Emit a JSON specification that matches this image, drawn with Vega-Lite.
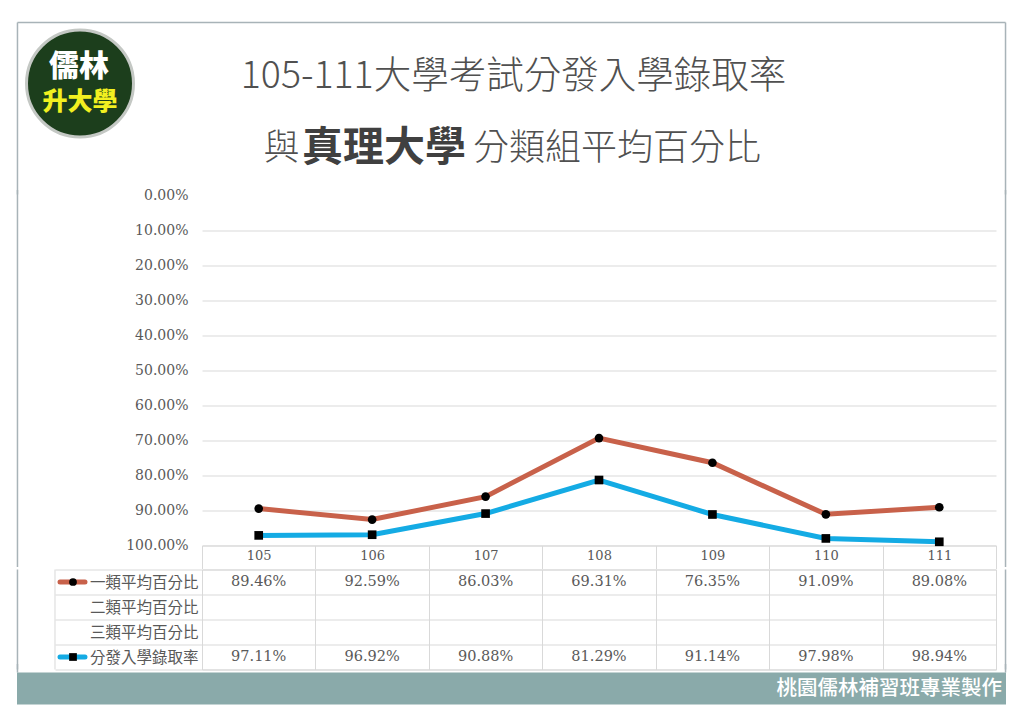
{
  "$schema": "https://vega.github.io/schema/vega-lite/v6.json",
  "background": "white",
  "padding": {"left": 16, "top": 21.5, "right": 10, "bottom": 10},
  "spacing": -9,
  "datasets": {
    "vals": [
      {"year": "105", "series": "一類平均百分比", "value": 0.8946},
      {"year": "106", "series": "一類平均百分比", "value": 0.9259},
      {"year": "107", "series": "一類平均百分比", "value": 0.8603},
      {"year": "108", "series": "一類平均百分比", "value": 0.6931},
      {"year": "109", "series": "一類平均百分比", "value": 0.7635},
      {"year": "110", "series": "一類平均百分比", "value": 0.9109},
      {"year": "111", "series": "一類平均百分比", "value": 0.8908},
      {"year": "105", "series": "分發入學錄取率", "value": 0.9711},
      {"year": "106", "series": "分發入學錄取率", "value": 0.9692},
      {"year": "107", "series": "分發入學錄取率", "value": 0.9088},
      {"year": "108", "series": "分發入學錄取率", "value": 0.8129},
      {"year": "109", "series": "分發入學錄取率", "value": 0.9114},
      {"year": "110", "series": "分發入學錄取率", "value": 0.9798},
      {"year": "111", "series": "分發入學錄取率", "value": 0.9894}
    ],
    "rows": [
      {"row": "一類平均百分比", "marker": "一類平均百分比"},
      {"row": "二類平均百分比"},
      {"row": "三類平均百分比"},
      {"row": "分發入學錄取率", "marker": "分發入學錄取率"}
    ],
    "frame": [{"edge": "frame"}]
  },
  "vconcat": [
    {
      "width": 794,
      "height": 172,
      "view": {"stroke": null},
      "layer": [
        {
          "data": {"name": "frame"},
          "mark": {"type": "rule", "color": "#A8B3B8", "strokeWidth": 1.5},
          "encoding": {
            "x": {"datum": -0.2324, "type": "quantitative", "scale": {"domain": [0, 1]}, "axis": null},
            "x2": {"datum": 1.012},
            "y": {"datum": 0, "type": "quantitative", "scale": {"domain": [0, 1], "reverse": true}, "axis": null}
          }
        },
        {
          "data": {"name": "frame"},
          "mark": {"type": "rule", "color": "#A8B3B8", "strokeWidth": 1.5},
          "encoding": {
            "x": {"datum": -0.2324, "type": "quantitative", "scale": {"domain": [0, 1]}, "axis": null}
          }
        },
        {
          "data": {"name": "frame"},
          "mark": {"type": "rule", "color": "#A8B3B8", "strokeWidth": 1.5},
          "encoding": {
            "x": {"datum": 1.012, "type": "quantitative", "scale": {"domain": [0, 1]}, "axis": null}
          }
        },
        {
          "data": {"values": [{"name": "儒林升大學"}]},
          "mark": {"type": "point", "shape": "circle", "filled": true, "fill": "#1C3E1C", "fillOpacity": 1, "stroke": "#C4C8C4", "strokeWidth": 3, "strokeOpacity": 1, "size": 11449},
          "encoding": {
            "x": {"datum": -0.15365, "type": "quantitative", "scale": {"domain": [0, 1]}, "axis": null},
            "y": {"datum": 0.3547, "type": "quantitative", "scale": {"domain": [0, 1], "reverse": true}, "axis": null}
          }
        },
        {
          "data": {"values": [{"t": "儒林"}]},
          "mark": {"type": "text", "font": "Noto Sans CJK TC", "fontWeight": 900, "fontSize": 30, "color": "#FFFFFF"},
          "encoding": {
            "text": {"field": "t"},
            "x": {"datum": -0.1549, "type": "quantitative", "scale": {"domain": [0, 1]}, "axis": null},
            "y": {"datum": 0.2587, "type": "quantitative", "scale": {"domain": [0, 1], "reverse": true}, "axis": null}
          }
        },
        {
          "data": {"values": [{"t": "升大學"}]},
          "mark": {"type": "text", "font": "Noto Sans CJK TC", "fontWeight": 900, "fontSize": 25, "color": "#F2F020"},
          "encoding": {
            "text": {"field": "t"},
            "x": {"datum": -0.15365, "type": "quantitative", "scale": {"domain": [0, 1]}, "axis": null},
            "y": {"datum": 0.4622, "type": "quantitative", "scale": {"domain": [0, 1], "reverse": true}, "axis": null}
          }
        },
        {
          "data": {"values": [{"t": "105-111大學考試分發入學錄取率"}]},
          "mark": {"type": "text", "font": "Noto Sans CJK TC", "fontWeight": 300, "fontSize": 37.5, "color": "#505050"},
          "encoding": {
            "text": {"field": "t"},
            "x": {"datum": 0.3923, "type": "quantitative", "scale": {"domain": [0, 1]}, "axis": null},
            "y": {"datum": 0.3163, "type": "quantitative", "scale": {"domain": [0, 1], "reverse": true}, "axis": null}
          }
        },
        {
          "data": {"values": [{"t": "與"}]},
          "mark": {"type": "text", "font": "Noto Sans CJK TC", "fontWeight": 300, "fontSize": 36, "color": "#505050"},
          "encoding": {
            "text": {"field": "t"},
            "x": {"datum": 0.1001, "type": "quantitative", "scale": {"domain": [0, 1]}, "axis": null},
            "y": {"datum": 0.7383, "type": "quantitative", "scale": {"domain": [0, 1], "reverse": true}, "axis": null}
          }
        },
        {
          "data": {"values": [{"t": "真理大學"}]},
          "mark": {"type": "text", "font": "Noto Sans CJK TC", "fontWeight": 700, "fontSize": 41, "color": "#404040"},
          "encoding": {
            "text": {"field": "t"},
            "x": {"datum": 0.2292, "type": "quantitative", "scale": {"domain": [0, 1]}, "axis": null},
            "y": {"datum": 0.7383, "type": "quantitative", "scale": {"domain": [0, 1], "reverse": true}, "axis": null}
          }
        },
        {
          "data": {"values": [{"t": "分類組平均百分比"}]},
          "mark": {"type": "text", "font": "Noto Sans CJK TC", "fontWeight": 300, "fontSize": 36, "color": "#505050"},
          "encoding": {
            "text": {"field": "t"},
            "x": {"datum": 0.5227, "type": "quantitative", "scale": {"domain": [0, 1]}, "axis": null},
            "y": {"datum": 0.7383, "type": "quantitative", "scale": {"domain": [0, 1], "reverse": true}, "axis": null}
          }
        }
      ]
    },
    {
      "width": 794,
      "height": 350,
      "view": {"stroke": null},
      "resolve": {"scale": {"x": "independent", "y": "independent"}},
      "layer": [
        {
          "data": {"name": "vals"},
          "encoding": {
            "x": {
              "field": "year", "type": "ordinal", "title": null,
              "scale": {"type": "band", "domain": ["105", "106", "107", "108", "109", "110", "111"], "paddingInner": 0, "paddingOuter": 0},
              "axis": {"orient": "bottom", "labelAngle": 0, "domain": true, "domainColor": "#D9D9D9", "ticks": true, "tickColor": "#D9D9D9", "tickSize": 23, "tickBand": "extent", "labelPadding": -19, "labelFont": "DejaVu Serif", "labelFontSize": 13, "labelColor": "#595959", "grid": false, "minExtent": 0, "maxExtent": 23}
            },
            "y": {
              "field": "value", "type": "quantitative", "title": null,
              "scale": {"domain": [0, 1], "reverse": true},
              "axis": {"values": [0, 0.1, 0.2, 0.3, 0.4, 0.5, 0.6, 0.7, 0.8, 0.9, 1], "format": ".2%", "domain": false, "ticks": false, "labelPadding": 14, "labelFont": "DejaVu Serif", "labelFontSize": 14, "labelColor": "#595959", "gridColor": "#D9D9D9", "gridOpacity": {"condition": {"test": "datum.value == 0", "value": 0}, "value": 1}, "minExtent": 185, "maxExtent": 185}
            }
          },
          "layer": [
            {
              "mark": {"type": "line", "strokeWidth": 5},
              "encoding": {
                "color": {"field": "series", "type": "nominal", "scale": {"domain": ["一類平均百分比", "分發入學錄取率"], "range": ["#C8614A", "#14ABE4"]}, "legend": null}
              }
            },
            {
              "mark": {"type": "point", "filled": true, "size": 75, "color": "#000000", "opacity": 1},
              "encoding": {
                "shape": {"field": "series", "type": "nominal", "scale": {"domain": ["一類平均百分比", "分發入學錄取率"], "range": ["circle", "square"]}, "legend": null}
              }
            }
          ]
        },
        {
          "data": {"name": "frame"},
          "mark": {"type": "rule", "color": "#A8B3B8", "strokeWidth": 1.5},
          "encoding": {
            "x": {"datum": -0.2324, "type": "quantitative", "scale": {"domain": [0, 1]}, "axis": null},
            "y": {"datum": -0.016, "type": "quantitative", "scale": {"domain": [0, 1], "reverse": true}, "axis": null},
            "y2": {"datum": 1.0614}
          }
        },
        {
          "data": {"name": "frame"},
          "mark": {"type": "rule", "color": "#A8B3B8", "strokeWidth": 1.5},
          "encoding": {
            "x": {"datum": 1.012, "type": "quantitative", "scale": {"domain": [0, 1]}, "axis": null},
            "y": {"datum": -0.016, "type": "quantitative", "scale": {"domain": [0, 1], "reverse": true}, "axis": null},
            "y2": {"datum": 1.0614}
          }
        }
      ]
    },
    {
      "width": 794,
      "height": 100,
      "view": {"stroke": "#D9D9D9"},
      "resolve": {"scale": {"x": "independent", "y": "independent"}},
      "layer": [
        {
          "data": {"name": "vals"},
          "mark": {"type": "text", "font": "DejaVu Serif", "fontSize": 14.5, "color": "#595959"},
          "encoding": {
            "x": {
              "field": "year", "type": "ordinal", "title": null,
              "scale": {"type": "band", "domain": ["105", "106", "107", "108", "109", "110", "111"], "paddingInner": 0, "paddingOuter": 0},
              "axis": {"labels": false, "ticks": false, "domain": false, "grid": true, "gridColor": "#D9D9D9", "tickBand": "extent", "minExtent": 0, "maxExtent": 0}
            },
            "y": {
              "field": "series", "type": "nominal", "title": null,
              "scale": {"type": "band", "domain": ["一類平均百分比", "二類平均百分比", "三類平均百分比", "分發入學錄取率"], "paddingInner": 0, "paddingOuter": 0},
              "axis": {"domain": false, "ticks": true, "tickSize": 147, "tickColor": "#D9D9D9", "tickBand": "extent", "labelPadding": -143, "labelFont": "Noto Sans CJK TC", "labelFontSize": 15.5, "labelColor": "#595959", "grid": true, "gridColor": "#D9D9D9"}
            },
            "text": {"field": "value", "type": "quantitative", "format": ".2%"}
          }
        },
        {
          "data": {"name": "rows"},
          "transform": [{"filter": "datum.marker != null"}],
          "mark": {"type": "rule", "strokeWidth": 5, "strokeCap": "round"},
          "encoding": {
            "x": {"datum": -0.17884, "type": "quantitative", "scale": {"domain": [0, 1]}, "axis": null},
            "x2": {"datum": -0.14736},
            "y": {"field": "row", "type": "nominal", "title": null, "axis": null, "scale": {"type": "band", "domain": ["一類平均百分比", "二類平均百分比", "三類平均百分比", "分發入學錄取率"], "paddingInner": 0, "paddingOuter": 0}},
            "color": {"field": "marker", "type": "nominal", "scale": {"domain": ["一類平均百分比", "分發入學錄取率"], "range": ["#C8614A", "#14ABE4"]}, "legend": null}
          }
        },
        {
          "data": {"name": "rows"},
          "transform": [{"filter": "datum.marker != null"}],
          "mark": {"type": "point", "filled": true, "size": 60, "color": "#000000", "opacity": 1},
          "encoding": {
            "x": {"datum": -0.16247, "type": "quantitative", "scale": {"domain": [0, 1]}, "axis": null},
            "y": {"field": "row", "type": "nominal", "title": null, "axis": null, "scale": {"type": "band", "domain": ["一類平均百分比", "二類平均百分比", "三類平均百分比", "分發入學錄取率"], "paddingInner": 0, "paddingOuter": 0}},
            "shape": {"field": "marker", "type": "nominal", "scale": {"domain": ["一類平均百分比", "分發入學錄取率"], "range": ["circle", "square"]}, "legend": null}
          }
        },
        {
          "data": {"name": "frame"},
          "mark": {"type": "rule", "color": "#D9D9D9", "strokeWidth": 1},
          "encoding": {
            "x": {"datum": -0.18514, "type": "quantitative", "scale": {"domain": [0, 1]}, "axis": null}
          }
        },
        {
          "data": {"name": "frame"},
          "mark": {"type": "rule", "color": "#A8B3B8", "strokeWidth": 1.5},
          "encoding": {
            "x": {"datum": -0.2324, "type": "quantitative", "scale": {"domain": [0, 1]}, "axis": null}
          }
        },
        {
          "data": {"name": "frame"},
          "mark": {"type": "rule", "color": "#A8B3B8", "strokeWidth": 1.5},
          "encoding": {
            "x": {"datum": 1.012, "type": "quantitative", "scale": {"domain": [0, 1]}, "axis": null}
          }
        }
      ]
    },
    {
      "width": 794,
      "height": 32,
      "view": {"stroke": null},
      "layer": [
        {
          "data": {"name": "frame"},
          "mark": {"type": "rule", "color": "#A8B3B8", "strokeWidth": 1.5},
          "encoding": {
            "x": {"datum": -0.2324, "type": "quantitative", "scale": {"domain": [0, 1]}, "axis": null},
            "y": {"datum": -0.2656, "type": "quantitative", "scale": {"domain": [0, 1], "reverse": true}, "axis": null},
            "y2": {"datum": 0}
          }
        },
        {
          "data": {"name": "frame"},
          "mark": {"type": "rule", "color": "#A8B3B8", "strokeWidth": 1.5},
          "encoding": {
            "x": {"datum": 1.012, "type": "quantitative", "scale": {"domain": [0, 1]}, "axis": null},
            "y": {"datum": -0.2656, "type": "quantitative", "scale": {"domain": [0, 1], "reverse": true}, "axis": null},
            "y2": {"datum": 0}
          }
        },
        {
          "data": {"values": [{"t": "桃園儒林補習班專業製作"}]},
          "mark": {"type": "rect", "color": "#8AAAAA", "opacity": 1},
          "encoding": {
            "x": {"datum": -0.2330, "type": "quantitative", "scale": {"domain": [0, 1]}, "axis": null},
            "x2": {"datum": 1.0126}
          }
        },
        {
          "data": {"values": [{"t": "桃園儒林補習班專業製作"}]},
          "mark": {"type": "text", "align": "right", "font": "Noto Sans CJK TC", "fontWeight": 500, "fontSize": 20.5, "color": "#FFFFFF", "dx": -4},
          "encoding": {
            "text": {"field": "t"},
            "x": {"datum": 1.0126, "type": "quantitative", "scale": {"domain": [0, 1]}, "axis": null}
          }
        }
      ]
    }
  ]
}
